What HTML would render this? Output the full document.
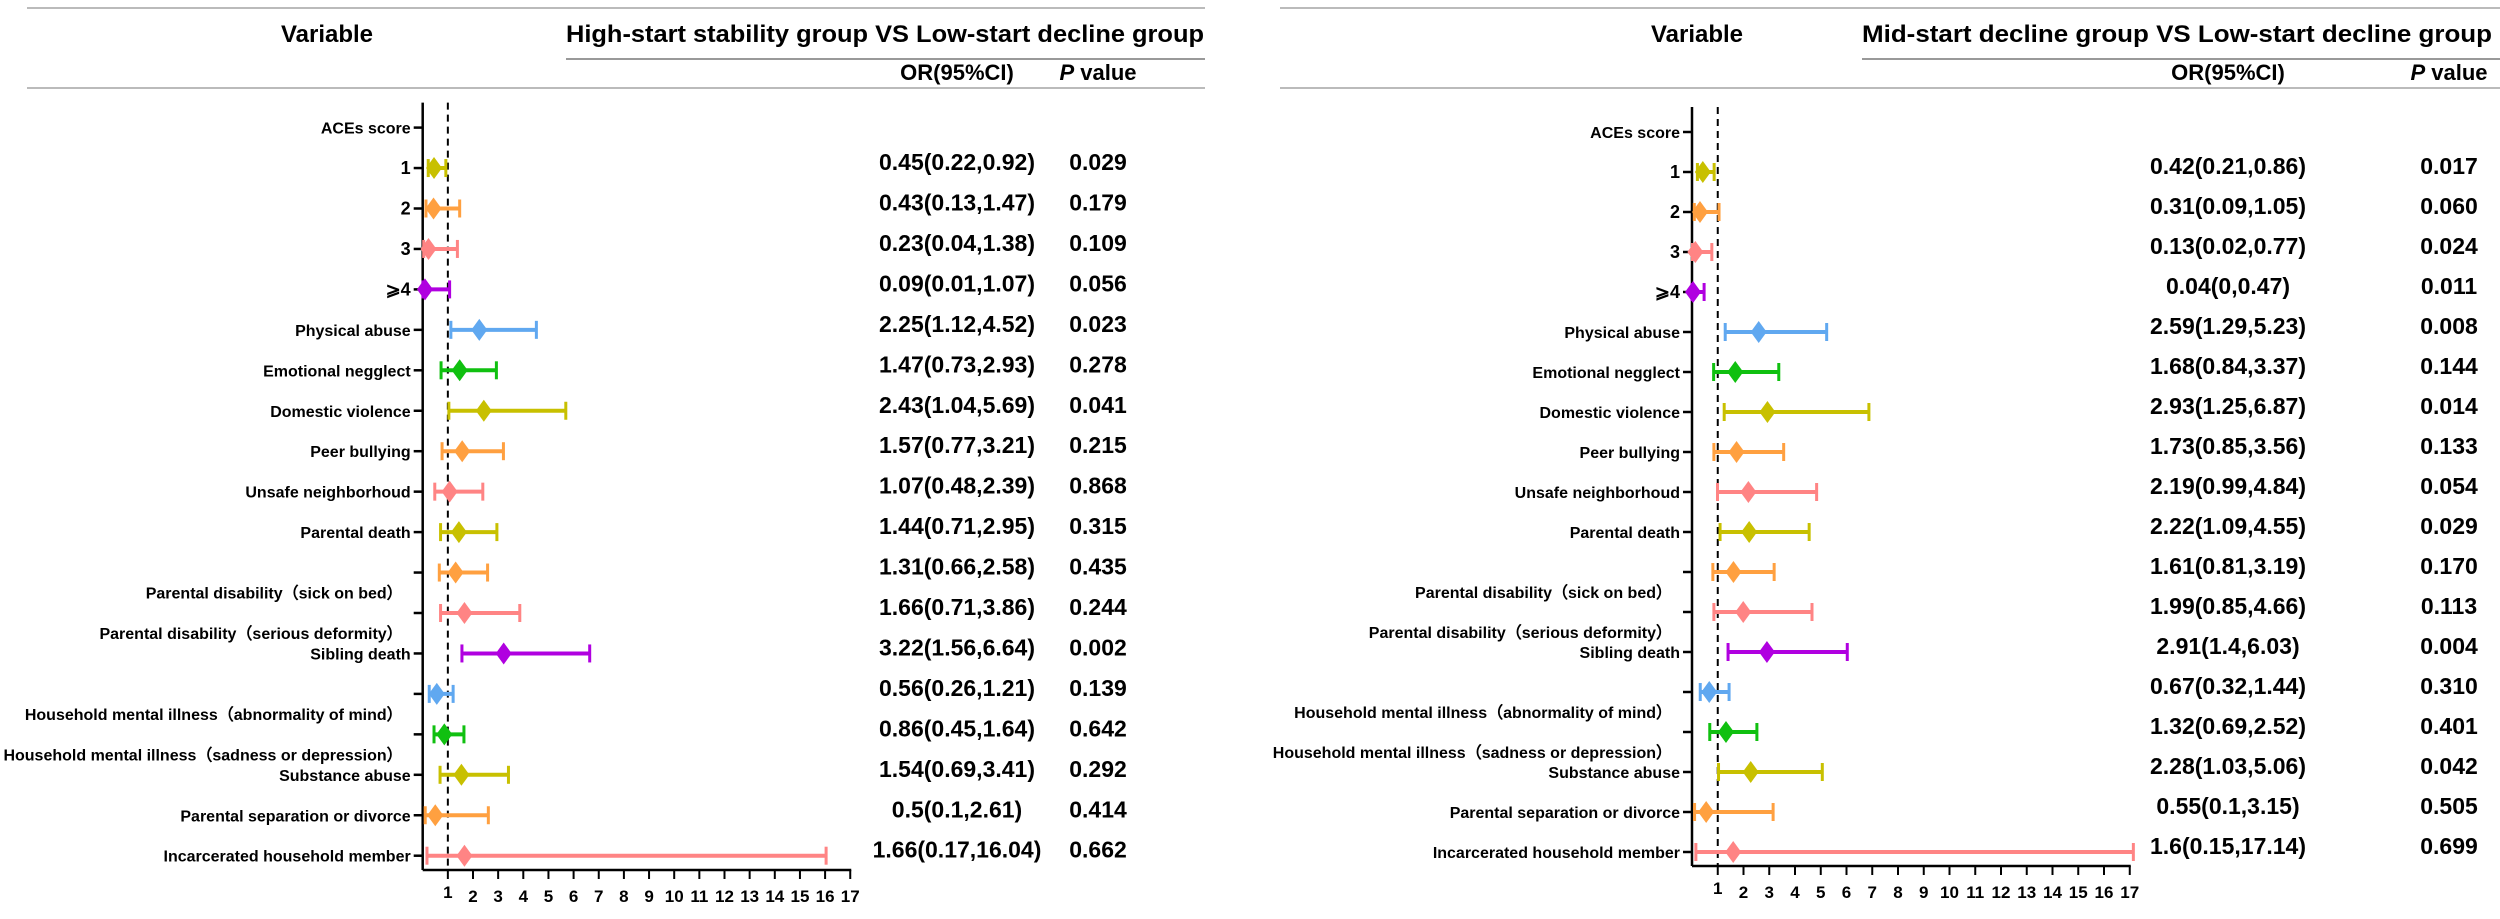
<!DOCTYPE html>
<html><head><meta charset="utf-8"><title>Forest plots</title>
<style>
html,body{margin:0;padding:0;background:#fff;}
svg{display:block;font-family:"Liberation Sans Narrow","Liberation Sans",sans-serif;}
</style></head>
<body>
<svg id="chart" width="2500" height="919" viewBox="0 0 2500 919" xmlns="http://www.w3.org/2000/svg"></svg>
<script>
const rowLabels = ["ACEs score","1","2","3","\u2A7E4","Physical abuse","Emotional negglect","Domestic violence","Peer bullying","Unsafe neighborhoud","Parental death","","","Sibling death","","","Substance abuse","Parental separation or divorce","Incarcerated household member"];
const floatLabels = [["Parental disability\uFF08sick on bed\uFF09",11],["Parental disability\uFF08serious deformity\uFF09",12],["Household mental illness\uFF08abnormality of mind\uFF09",14],["Household mental illness\uFF08sadness or depression\uFF09",15]];
const rowColors = [null,"#c8c000","#ffa040","#ff8484","#b000e0","#60a8f0","#10c010","#c8c000","#ffa040","#ff8484","#c8c000","#ffa040","#ff8484","#b000e0","#60a8f0","#10c010","#c8c000","#ffa040","#ff8484"];
const leftOR = [null,0.45,0.43,0.23,0.09,2.25,1.47,2.43,1.57,1.07,1.44,1.31,1.66,3.22,0.56,0.86,1.54,0.5,1.66];
const leftLo = [null,0.22,0.13,0.04,0.01,1.12,0.73,1.04,0.77,0.48,0.71,0.66,0.71,1.56,0.26,0.45,0.69,0.1,0.17];
const leftHi = [null,0.92,1.47,1.38,1.07,4.52,2.93,5.69,3.21,2.39,2.95,2.58,3.86,6.64,1.21,1.64,3.41,2.61,16.04];
const leftP = [null,"0.029","0.179","0.109","0.056","0.023","0.278","0.041","0.215","0.868","0.315","0.435","0.244","0.002","0.139","0.642","0.292","0.414","0.662"];
const rightOR = [null,0.42,0.31,0.13,0.04,2.59,1.68,2.93,1.73,2.19,2.22,1.61,1.99,2.91,0.67,1.32,2.28,0.55,1.6];
const rightLo = [null,0.21,0.09,0.02,0,1.29,0.84,1.25,0.85,0.99,1.09,0.81,0.85,1.4,0.32,0.69,1.03,0.1,0.15];
const rightHi = [null,0.86,1.05,0.77,0.47,5.23,3.37,6.87,3.56,4.84,4.55,3.19,4.66,6.03,1.44,2.52,5.06,3.15,17.14];
const rightP = [null,"0.017","0.060","0.024","0.011","0.008","0.144","0.014","0.133","0.054","0.029","0.170","0.113","0.004","0.310","0.401","0.042","0.505","0.699"];
const xTicks = [1,2,3,4,5,6,7,8,9,10,11,12,13,14,15,16,17];

const NS="http://www.w3.org/2000/svg";
const svg=document.getElementById('chart');
function el(tag,attrs,parent,text){const e=document.createElementNS(NS,tag);for(const k in attrs)e.setAttribute(k,attrs[k]);if(text!==undefined)e.textContent=text;(parent||svg).appendChild(e);return e;}

function panel(cfg){
  const g=el('g',{});
  
  
  const x=v=>cfg.x0+v*cfg.unit;
  const y=i=>cfg.y0+i*cfg.step;
  // header lines
  let l=el('line',{x1:cfg.lineL,x2:cfg.lineR,y1:8,y2:8,stroke:'#bbb','stroke-width':2},g);
  
  l=el('line',{x1:cfg.titleL,x2:cfg.lineR,y1:59,y2:59,stroke:'#999','stroke-width':2},g);
  
  l=el('line',{x1:cfg.lineL,x2:cfg.lineR,y1:88,y2:88,stroke:'#bbb','stroke-width':2},g);
  
  let t=el('text',{x:cfg.varX,y:42,'text-anchor':'middle','font-size':24,'font-weight':'bold'},g,'Variable');
  
  t=el('text',{x:cfg.titleL,y:42,'font-size':24,'font-weight':'bold',textLength:cfg.titleW,lengthAdjust:'spacingAndGlyphs'},g,cfg.title);
  
  t=el('text',{x:cfg.orX,y:80,'text-anchor':'middle','font-size':22,'font-weight':'bold'},g,'OR(95%CI)');
  
  t=el('text',{x:cfg.pX,y:80,'text-anchor':'middle','font-size':22,'font-weight':'bold'},g);
  
  el('tspan',{'font-style':'italic'},t,'P');el('tspan',{},t,' value');
  // axes
  const yTop=cfg.y0-25, yBot=cfg.axisBot;
  l=el('line',{x1:cfg.x0,x2:cfg.x0,y1:yTop,y2:yBot,stroke:'#000','stroke-width':2.5},g);
  
  l=el('line',{x1:cfg.x0,x2:x(17)+1,y1:yBot,y2:yBot,stroke:'#000','stroke-width':2.5},g);
  
  l=el('line',{x1:x(1),x2:x(1),y1:yTop,y2:yBot,stroke:'#000','stroke-width':2,'stroke-dasharray':'7,5'},g);
  
  xTicks.forEach(v=>{
    const tk=el('line',{x1:x(v),x2:x(v),y1:yBot,y2:yBot+9,stroke:'#000','stroke-width':2},g);
    
    const tl=el('text',{x:x(v),y:yBot+(v===1?28:32),'text-anchor':'middle','font-size':17,'font-weight':'bold'},g,String(v));
    
  });
  rowLabels.forEach((lab,i)=>{
    const yy=y(i);
    const tk=el('line',{x1:cfg.x0-9,x2:cfg.x0,y1:yy,y2:yy,stroke:'#000','stroke-width':2.5},g);
    
    if(lab){
      const small=(i>=1&&i<=4);
      const tl=el('text',{x:cfg.x0-12,y:yy+6,'text-anchor':'end','font-size':small?18:16,'font-weight':'bold',fill:i===4?'#000':'#000'},g,lab);
      
    }
  });
  floatLabels.forEach(([lab,i])=>{
    const tl=el('text',{x:cfg.x0-20,y:y(i)+26,'text-anchor':'end','font-size':16,'font-weight':'bold'},g,lab);
    
  });
  // marks
  for(let i=1;i<rowLabels.length;i++){
    const yy=y(i),c=rowColors[i];
    const lo=Math.max(cfg.lo[i],0),hi=Math.min(cfg.hi[i],17.5);
    const bar=el('line',{x1:x(lo),x2:x(hi),y1:yy,y2:yy,stroke:c,'stroke-width':4},g);
    
    [lo,hi].forEach(v=>{
      if(v>=17.5) return;
      const cap=el('line',{x1:x(v),x2:x(v),y1:yy-9,y2:yy+9,stroke:c,'stroke-width':3},g);
      
    });
    const cx=x(cfg.or[i]);
    const d=el('polygon',{points:`${cx},${yy-11} ${cx+8},${yy} ${cx},${yy+11} ${cx-8},${yy}`,fill:c},g);
    
    const ot=el('text',{x:cfg.orX,y:yy+2,'text-anchor':'middle','font-size':23,'font-weight':'bold'},g,`${cfg.or[i]}(${cfg.lo[i]},${cfg.hi[i]})`);
    
    const pt=el('text',{x:cfg.pX,y:yy+2,'text-anchor':'middle','font-size':23,'font-weight':'bold'},g,cfg.p[i]);
    
  }
}

panel({name:'left-forest-panel',x0:422.7,unit:25.15,y0:127.6,step:40.45,axisBot:870,lineL:27,lineR:1205,titleL:566,titleW:638,varX:327,orX:957,pX:1098,
  title:'High-start stability group VS Low-start decline group',or:leftOR,lo:leftLo,hi:leftHi,p:leftP});
panel({name:'right-forest-panel',x0:1692,unit:25.75,y0:132,step:40,axisBot:866,lineL:1280,lineR:2500,titleL:1862,titleW:630,varX:1697,orX:2228,pX:2449,
  title:'Mid-start decline group VS Low-start decline group',or:rightOR,lo:rightLo,hi:rightHi,p:rightP});
</script>
</body></html>
